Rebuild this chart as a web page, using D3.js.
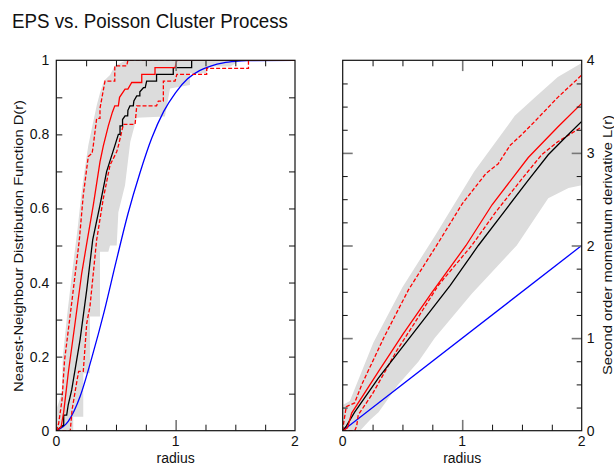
<!DOCTYPE html>
<html>
<head>
<meta charset="utf-8">
<script src="https://cdn.jsdelivr.net/npm/d3@7"></script>
<style>
  body { margin: 0; background: #fff; }
  text { font-family: "Liberation Sans", Arial, sans-serif; fill: #111; }
</style>
</head>
<body>
<svg id="chart" width="614" height="466"></svg>
<script>
// ---- left panel: nearest-neighbour distribution D(r)
const nnEnvHiR = [0, 0.003, 0.045, 0.055, 0.09, 0.13, 0.18, 0.21, 0.24, 0.268, 0.30, 0.34, 0.366, 0.40, 0.45, 0.49, 0.55, 0.59, 2.0]
const nnEnvHi  = [0, 0.06, 0.1, 0.2, 0.31, 0.42, 0.55, 0.64, 0.71, 0.77, 0.82, 0.88, 0.912, 0.945, 0.96, 0.985, 0.995, 1.0, 1.0]
const nnEnvLoR = [0, 0.142, 0.142, 0.226, 0.226, 0.282, 0.282, 0.366, 0.366, 0.436, 0.45, 0.506, 0.52, 0.576, 0.62, 0.674, 0.91, 0.953, 1.12, 1.12, 1.26, 1.28, 1.46, 1.54, 2.0]
const nnEnvLo  = [0, 0, 0.038, 0.038, 0.155, 0.155, 0.308, 0.308, 0.483, 0.483, 0.5, 0.5, 0.59, 0.663, 0.78, 0.845, 0.848, 0.924, 0.933, 0.965, 0.965, 0.983, 0.983, 1.0, 1.0]

const nnBlackR = [0, 0.03, 0.062, 0.062, 0.087, 0.1, 0.129, 0.165, 0.199, 0.255, 0.305, 0.366, 0.422, 0.49, 0.52, 0.534, 0.534, 0.555, 0.555, 0.576, 0.598, 0.6, 0.617, 0.645, 0.65, 0.674, 0.70, 0.70, 0.73, 0.745, 0.757, 0.84, 0.84, 0.98, 0.98, 1.134, 1.134, 2.0]
const nnBlack  = [0, 0.008, 0.015, 0.042, 0.042, 0.07, 0.11, 0.18, 0.245, 0.38, 0.515, 0.609, 0.70, 0.769, 0.80, 0.80, 0.823, 0.823, 0.84, 0.85, 0.85, 0.865, 0.877, 0.877, 0.89, 0.904, 0.904, 0.915, 0.926, 0.926, 0.944, 0.944, 0.962, 0.962, 0.98, 0.98, 1.0, 1.0]

const nnRedR = [0, 0.04, 0.062, 0.1, 0.157, 0.213, 0.26, 0.31, 0.366, 0.394, 0.436, 0.47, 0.49, 0.52, 0.53, 0.576, 0.60, 0.632, 0.716, 0.716, 0.827, 0.827, 0.995, 1.01, 2.0]
const nnRed  = [0, 0.01, 0.05, 0.155, 0.29, 0.425, 0.515, 0.609, 0.726, 0.769, 0.823, 0.86, 0.877, 0.877, 0.9, 0.922, 0.922, 0.94, 0.94, 0.962, 0.962, 0.98, 0.98, 1.0, 1.0]

const nnRedHiR = [0, 0.02, 0.048, 0.069, 0.104, 0.132, 0.193, 0.226, 0.255, 0.268, 0.30, 0.31, 0.338, 0.366, 0.366, 0.408, 0.49, 0.49, 0.59, 0.60, 2.0]
const nnRedHi  = [0, 0.02, 0.083, 0.19, 0.28, 0.353, 0.515, 0.636, 0.708, 0.74, 0.749, 0.77, 0.843, 0.843, 0.87, 0.944, 0.944, 0.985, 0.985, 1.0, 1.0]

const nnRedLoR = [0, 0.117, 0.132, 0.16, 0.187, 0.226, 0.255, 0.282, 0.338, 0.394, 0.45, 0.506, 0.52, 0.562, 0.66, 0.674, 0.84, 0.855, 0.897, 0.897, 0.995, 1.01, 1.26, 1.26, 1.61, 1.61, 2.0]
const nnRedLo  = [0, 0, 0.056, 0.11, 0.16, 0.16, 0.29, 0.335, 0.515, 0.627, 0.717, 0.753, 0.769, 0.827, 0.827, 0.877, 0.877, 0.89, 0.89, 0.944, 0.944, 0.962, 0.962, 0.978, 0.978, 1.0, 1.0]

const nnPoisR = [0, 0.1, 0.2, 0.3, 0.4, 0.5, 0.6, 0.7, 0.8, 0.9, 1.0, 1.1, 1.2, 1.3, 1.4, 1.5, 1.6, 2.0]
const nnPois  = [0, 0.025, 0.093, 0.2, 0.32, 0.455, 0.585, 0.695, 0.79, 0.862, 0.913, 0.95, 0.972, 0.985, 0.993, 0.997, 0.999, 1.0]

// ---- right panel: L(r)
const lEnvHiR = [0, 0.005, 0.06, 0.1, 0.256, 0.5, 0.77, 1.1, 1.44, 1.61, 1.8, 2.0]
const lEnvHi  = [0, 0.28, 0.32, 0.45, 0.95, 1.55, 2.1, 2.8, 3.4, 3.6, 3.82, 3.97]
const lEnvLoR = [0, 0.145, 0.228, 0.3, 0.465, 0.633, 0.77, 1.08, 1.456, 1.72, 1.89, 2.0]
const lEnvLo  = [0, 0, 0.115, 0.2, 0.5, 0.745, 1.0, 1.48, 2.0, 2.51, 2.62, 2.65]

const lBlackR = [0, 0.03, 0.06, 0.1, 0.3, 0.6, 0.9, 1.135, 1.36, 1.55, 1.72, 1.85, 2.0]
const lBlack  = [0, 0.05, 0.115, 0.2, 0.57, 1.07, 1.57, 2.0, 2.38, 2.7, 2.98, 3.15, 3.34]

const lRedR = [0, 0.04, 0.075, 0.3, 0.503, 0.75, 1.032, 1.25, 1.553, 1.8, 2.0]
const lRed  = [0, 0.03, 0.19, 0.64, 1.04, 1.5, 2.0, 2.44, 2.95, 3.28, 3.535]

const lRedHiR = [0, 0.01, 0.03, 0.1, 0.16, 0.35, 0.55, 0.8, 1.0, 1.2, 1.3, 1.4, 1.5, 1.6, 1.8, 2.0]
const lRedHi  = [0, 0.1, 0.26, 0.3, 0.5, 1.02, 1.52, 2.03, 2.45, 2.78, 2.88, 3.08, 3.2, 3.33, 3.6, 3.84]

const lRedLoR = [0, 0.1, 0.117, 0.13, 0.25, 0.45, 0.6, 0.8, 1.08, 1.28, 1.5, 1.665, 1.8, 2.0]
const lRedLo  = [0, 0, 0.05, 0.17, 0.4, 0.86, 1.16, 1.57, 2.0, 2.36, 2.72, 2.98, 3.12, 3.28]

const lPoisR = [0, 2]
const lPois  = [0, 2]

const xTickLabels = [0, 1, 2]
const nnTickLabels = [0, 0.2, 0.4, 0.6, 0.8, 1]
const lTickLabels = [0, 1, 2, 3, 4]

const svg = d3.select('#chart')

svg.append('text')
    .attr('x', 12).attr('y', 28)
    .attr('textLength', 276).attr('lengthAdjust', 'spacingAndGlyphs')
    .style('font-size', '20px')
    .text('EPS vs. Poisson Cluster Process')

const drawPanel = (opt) => {
  const x = d3.scaleLinear().domain([0, 2]).range([opt.left, opt.right])
  const y = d3.scaleLinear().domain([0, opt.ymax]).range([430.7, 60.3])
  const g = svg.append('g')

  g.append('clipPath').attr('id', opt.id)
    .append('rect')
      .attr('x', opt.left).attr('y', 60.3)
      .attr('width', opt.right - opt.left).attr('height', 430.7 - 60.3)

  const plot = g.append('g').attr('clip-path', `url(#${opt.id})`)
  const line = d3.line().x(d => x(d[0])).y(d => y(d[1]))

  // envelope: upper edge forward, lower edge back
  const env = d3.zip(opt.envHiR, opt.envHi).concat(d3.zip(opt.envLoR, opt.envLo).reverse())
  plot.append('path')
      .attr('d', line(env) + 'Z')
      .attr('fill', '#dcdcdc')

  opt.series.forEach(s => {
    plot.append('path')
        .datum(d3.zip(s.r, s.v))
        .attr('d', s.smooth ? line.curve(d3.curveMonotoneX) : line.curve(d3.curveLinear))
        .attr('fill', 'none')
        .attr('stroke', s.color)
        .attr('stroke-width', 1.3)
        .attr('stroke-dasharray', s.dash || null)
  })

  // ticks on all four sides, pointing inward
  const addTicks = (axis, transform, cls) => {
    g.append('g').attr('transform', transform).attr('class', cls).call(axis)
      .call(a => a.select('.domain').remove())
      .call(a => a.selectAll('text').remove())
  }
  const xMinor = d3.range(0, 2.01, 0.25).filter(v => v % 1 !== 0)
  ;[[d3.axisBottom, 430.7, -6], [d3.axisTop, 60.3, -6]].forEach(([ax, ty, s]) => {
    addTicks(ax(x).tickValues(xMinor).tickSize(s), `translate(0,${ty})`, 'minor')
    addTicks(ax(x).tickValues([1]).tickSize(s * 1.8), `translate(0,${ty})`, 'major')
  })
  ;[[d3.axisLeft, opt.left], [d3.axisRight, opt.right]].forEach(([ax, tx]) => {
    addTicks(ax(y).tickValues(opt.yMinor).tickSize(opt.minorLen), `translate(${tx},0)`, 'minor')
    if (opt.yMajor.length) {
      addTicks(ax(y).tickValues(opt.yMajor).tickSize(-10), `translate(${tx},0)`, 'major')
    }
  })
  g.selectAll('.minor line').attr('stroke', '#111').attr('stroke-width', 1)
  g.selectAll('.major line').attr('stroke', '#777').attr('stroke-width', 1.6)

  g.append('rect')
      .attr('x', opt.left).attr('y', 60.3)
      .attr('width', opt.right - opt.left).attr('height', 430.7 - 60.3)
      .attr('fill', 'none').attr('stroke', '#111').attr('stroke-width', 1.2)

  // tick labels
  g.selectAll('.xl').data(xTickLabels).enter().append('text')
      .attr('x', d => x(d)).attr('y', 446)
      .attr('text-anchor', 'middle').style('font-size', '14px')
      .text(d => d)
  g.append('text')
      .attr('x', (opt.left + opt.right) / 2).attr('y', 463)
      .attr('text-anchor', 'middle').style('font-size', '14px')
      .text('radius')

  g.selectAll('.yl').data(opt.yLabels).enter().append('text')
      .attr('x', opt.labelRight ? opt.right + 5 : opt.left - 7)
      .attr('y', d => y(d) + 5)
      .attr('text-anchor', opt.labelRight ? 'start' : 'end')
      .style('font-size', '14px')
      .text(d => d)

  g.append('text')
      .attr('transform', `translate(${opt.titleX},${opt.titleY}) rotate(-90)`)
      .attr('text-anchor', 'middle').style('font-size', '13.5px')
      .attr('textLength', opt.titleLen).attr('lengthAdjust', 'spacingAndGlyphs')
      .text(opt.title)
}

drawPanel({
  id: 'clipL', left: 56.3, right: 295, ymax: 1,
  envHiR: nnEnvHiR, envHi: nnEnvHi, envLoR: nnEnvLoR, envLo: nnEnvLo,
  series: [
    { r: nnPoisR, v: nnPois, color: '#0000ff', smooth: true },
    { r: nnRedHiR, v: nnRedHi, color: '#ff0000', dash: '4,2' },
    { r: nnRedLoR, v: nnRedLo, color: '#ff0000', dash: '4,2' },
    { r: nnBlackR, v: nnBlack, color: '#000000' },
    { r: nnRedR, v: nnRed, color: '#ff0000' }
  ],
  yMinor: d3.range(0.1, 1, 0.1), yMajor: [], minorLen: -6,
  yLabels: nnTickLabels, labelRight: false,
  title: 'Nearest-Neighbour Distribution Function D(r)', titleX: 23, titleY: 246, titleLen: 292
})

drawPanel({
  id: 'clipR', left: 342.7, right: 581.7, ymax: 4,
  envHiR: lEnvHiR, envHi: lEnvHi, envLoR: lEnvLoR, envLo: lEnvLo,
  series: [
    { r: lPoisR, v: lPois, color: '#0000ff' },
    { r: lRedHiR, v: lRedHi, color: '#ff0000', dash: '4,2' },
    { r: lRedLoR, v: lRedLo, color: '#ff0000', dash: '4,2' },
    { r: lBlackR, v: lBlack, color: '#000000' },
    { r: lRedR, v: lRed, color: '#ff0000' }
  ],
  yMinor: d3.range(0.25, 4, 0.25).filter(v => v % 1 !== 0), yMajor: [1, 2, 3], minorLen: -5,
  yLabels: lTickLabels, labelRight: true,
  title: 'Second order momentum derivative L(r)', titleX: 612, titleY: 245, titleLen: 260
})
</script>
</body>
</html>
